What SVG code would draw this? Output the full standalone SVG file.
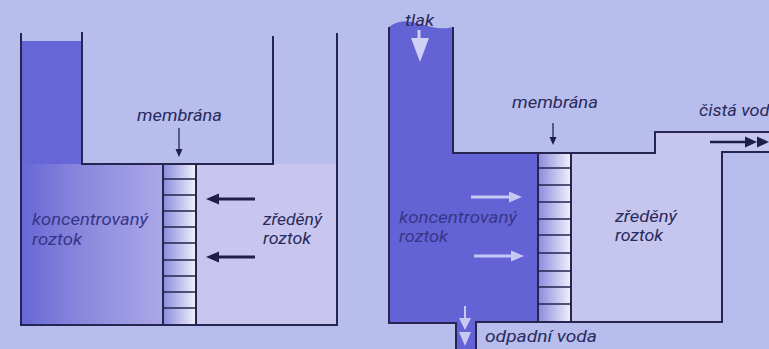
<svg xmlns="http://www.w3.org/2000/svg" width="769" height="349" viewBox="0 0 769 349">
<defs>
<linearGradient id="memb" x1="0" x2="1" y1="0" y2="0">
<stop offset="0" stop-color="#8a8ade"/>
<stop offset="1" stop-color="#f2f2fb"/>
</linearGradient>
<linearGradient id="concL" x1="0" x2="1" y1="0" y2="0">
<stop offset="0" stop-color="#6767d6"/>
<stop offset="0.4" stop-color="#8886dc"/>
<stop offset="1" stop-color="#aca8e8"/>
</linearGradient>
<style>
.wall{fill:none;stroke:#25254f;stroke-width:2}
.mline{stroke:#25254f;stroke-width:1.5}
.lbl{font-family:Roboto,"Open Sans",sans-serif;font-style:italic;font-size:16px;fill:#2a2a5c}
.lblc{fill:#363688}
.darr{stroke:#1e1e48;stroke-width:3;fill:none}
.darrh{fill:#1e1e48}
.warr{stroke:#c6c8f4;stroke-width:3;fill:none}
.warrh{fill:#c6c8f4}
.thin{stroke:#25254f;stroke-width:1.3;fill:none}
</style>
</defs>
<rect width="769" height="349" fill="#b7bdec"/>

<g id="osmoza">
  <rect x="196" y="164" width="141" height="161" fill="#c8c6ee"/>
  <rect x="21" y="41" width="61" height="123" fill="#6666d6"/>
  <rect x="21" y="164" width="142" height="161" fill="url(#concL)"/>
  <rect x="163" y="164" width="33" height="161" fill="url(#memb)"/>
  <path class="wall" d="M21,33 V325 H337 V33"/>
  <path class="wall" d="M82,32 V164 H273 V36"/>
  <g id="membrana-l">
    <path class="wall" d="M163,164 V325 M196,164 V325"/>
    <path class="mline" d="M163,179H196M163,195H196M163,211H196M163,227H196M163,243H196M163,260H196M163,276H196M163,292H196M163,308H196"/>
  </g>
  <path class="thin" d="M179,128 V150"/>
  <path class="darrh" d="M175.5,149 L182.5,149 L179,157 Z"/>
  <path class="darr" d="M255,199 H216"/>
  <path class="darrh" d="M219,193.5 L219,204.5 L206,199 Z"/>
  <path class="darr" d="M255,257 H216"/>
  <path class="darrh" d="M219,251.5 L219,262.5 L206,257 Z"/>
  <text class="lbl" x="137" y="121" textLength="85" lengthAdjust="spacingAndGlyphs">membrána</text>
  <text class="lbl lblc" x="32" y="225" textLength="116" lengthAdjust="spacingAndGlyphs">koncentrovaný</text>
  <text class="lbl lblc" x="32" y="245" textLength="50" lengthAdjust="spacingAndGlyphs">roztok</text>
  <text class="lbl" x="263" y="225" textLength="59" lengthAdjust="spacingAndGlyphs">zředěný</text>
  <text class="lbl" x="263" y="244" textLength="48" lengthAdjust="spacingAndGlyphs">roztok</text>
</g>

<g id="reverzni-osmoza">
  <path d="M571,153 H655 V132 H769 V152 H722 V322 H571 Z" fill="#c6c5ee"/>
  <path d="M389,27 C396,22 402,20 412,22 C425,25 440,31 453,27 V153 H538 V323 H476 V349 H456 V323 H389 Z" fill="#6363d5"/>
  <rect x="538" y="153" width="33" height="169" fill="url(#memb)"/>
  <path class="wall" d="M389,27 V323 H456 V349"/>
  <path class="wall" d="M476,349 V322 H722 V152 H769"/>
  <path class="wall" d="M453,27 V153 H655 V132 H769"/>
  <g id="membrana-r">
    <path class="wall" d="M538,153 V322 M571,153 V322"/>
    <path class="mline" d="M538,168H571M538,185H571M538,202H571M538,219H571M538,235H571M538,253H571M538,271H571M538,287H571M538,304H571"/>
  </g>
  <path class="thin" d="M553,123 V138"/>
  <path class="darrh" d="M549.5,137 L556.5,137 L553,145 Z"/>
  <path class="warr" d="M471,197 H511"/>
  <path class="warrh" d="M509,191.5 L509,202.5 L522,197 Z"/>
  <path class="warr" d="M474,256 H513"/>
  <path class="warrh" d="M511,250.5 L511,261.5 L524,256 Z"/>
  <path d="M419,30 V39" stroke="#d0d0f4" stroke-width="3"/>
  <path d="M411,38 L429,38 L420,62 Z" fill="#d0d0f4"/>
  <path d="M465,306 V320" stroke="#c8c8f0" stroke-width="2"/>
  <path d="M459,318 L471,318 L465,330 Z M459,332 L471,332 L465,346 Z" fill="#c8c8f0"/>
  <path d="M710,142 H748" stroke="#1e1e48" stroke-width="2.5"/>
  <path d="M745,136.5 L745,147.5 L757,142 Z M757,136.5 L757,147.5 L769,142 Z" fill="#1e1e48"/>
  <text class="lbl" x="405" y="26" textLength="29" lengthAdjust="spacingAndGlyphs">tlak</text>
  <text class="lbl" x="512" y="108" textLength="86" lengthAdjust="spacingAndGlyphs">membrána</text>
  <text class="lbl" x="699" y="116" textLength="80" lengthAdjust="spacingAndGlyphs">čistá voda</text>
  <text class="lbl lblc" x="399" y="223" textLength="118" lengthAdjust="spacingAndGlyphs">koncentrovaný</text>
  <text class="lbl lblc" x="399" y="242" textLength="49" lengthAdjust="spacingAndGlyphs">roztok</text>
  <text class="lbl" x="615" y="222" textLength="62" lengthAdjust="spacingAndGlyphs">zředěný</text>
  <text class="lbl" x="615" y="241" textLength="48" lengthAdjust="spacingAndGlyphs">roztok</text>
  <text class="lbl" x="485" y="342" textLength="112" lengthAdjust="spacingAndGlyphs">odpadní voda</text>
</g>
</svg>
